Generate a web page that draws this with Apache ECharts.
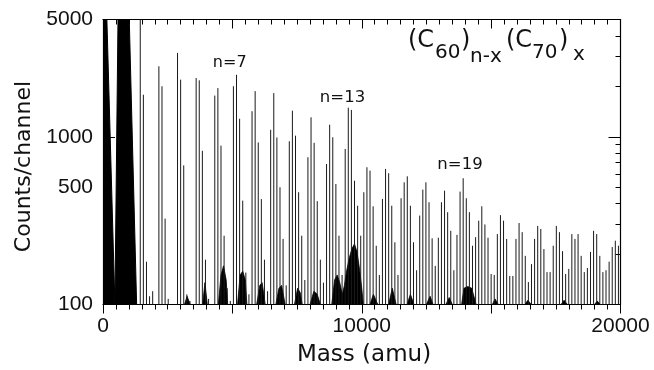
<!DOCTYPE html>
<html><head><meta charset="utf-8">
<script src="https://cdn.jsdelivr.net/npm/echarts@6/dist/echarts.min.js"></script>
<style>html,body{margin:0;padding:0;background:#fff}#c{width:654px;height:370px}</style>
</head><body><div id="c"></div>
<script>
// Peak masses (amu) and heights (counts/channel)
const spikeMass = [1440,1560,1680,1800,1920,2160,2280,2400,2520,2880,3000,3120,3240,3360,3600,3720,3840,3960,4080,
4320,4440,4560,4680,4800,4920,5040,5160,5280,5400,5520,5640,5760,5880,6000,6120,6240,6360,6480,6600,6720,6840,6960,7080,
7200,7320,7440,7560,7680,7800,7920,8040,8160,8280,8400,8520,8640,8760,8880,9000,9120,9240,9360,9480,9600,9720,9840,9960,
10080,10200,10320,10440,10560,10680,10800,10920,11040,11160,11280,11400,11520,11640,11760,11880,12000,12120,12240,12360,12480,12600,12720,12840,
12960,13080,13200,13320,13440,13560,13680,13800,13920,14040,14160,14280,14400,14520,14640,14760,14880,15000,15120,15240,15360,15480,15600,15720,
15840,15960,16080,16200,16320,16440,16560,16680,16800,16920,17040,17160,17280,17400,17520,17640,17760,17880,18000,18120,18240,18360,18480,18600,
18720,18840,18960,19080,19200,19320,19440,19560,19680,19800,19920];
const spikeCounts = [6000,1780,180,112,120,2630,2000,325,108,3160,2190,675,115,105,2240,2170,825,185,108,
1760,1950,885,257,125,105,2000,2340,1280,416,155,115,1420,1870,925,425,185,120,1100,1820,990,500,246,130,
940,1430,1015,467,257,140,755,1306,920,413,185,135,688,1180,993,523,257,150,846,1490,1445,547,388,257,
467,658,628,385,224,150,426,643,606,388,235,150,430,535,581,388,235,160,339,484,535,407,248,170,
250,407,477,355,275,160,260,471,566,430,355,224,252,316,385,300,250,152,150,263,341,316,246,148,
148,246,306,270,195,136,174,246,294,282,214,156,156,224,294,270,208,152,163,263,246,263,195,156,
165,206,275,263,195,156,160,180,220,240,224];
// Saturated low-mass region (C60 / C70 and lighter ions)
const saturatedMass = [0,150,460,520,580,1015,1300];
const saturatedCounts = [5000,5000,100,100,5000,5000,100];
// Unresolved background humps near the baseline
const noiseMass = [1300,3150,3250,3370,3850,3940,4030,4460,4560,4660,4760,4820,5200,5300,5400,5500,5560,
5940,6060,6150,6270,6680,6800,6900,7040,7400,7520,7620,7700,8000,8150,8280,8400,
8840,8950,9050,9150,9250,9330,9420,9520,9620,9720,9820,9920,10000,10060,
10320,10450,10620,11040,11180,11330,11750,11880,12020,12500,12640,12760,13250,13380,13500,
13860,13950,14100,14250,14420,15050,15150,15280,16300,16420,16550,17700,17820,17950,19000,19100,19220];
const noiseCounts = [100,100,112,100,100,135,100,100,150,170,140,100,100,150,158,140,100,
100,130,135,100,100,125,130,100,100,125,118,100,100,120,115,100,
100,140,150,135,115,130,160,190,215,230,205,160,125,100,
100,115,100,100,125,100,100,115,100,100,112,100,100,110,100,
100,125,128,125,100,100,108,100,100,106,100,100,106,100,100,105,100];
const xTickLabels = [0,10000,20000];
const yLabelValues = [100,500,1000,5000];
const yTickValues = [100,200,300,400,500,600,700,800,900,1000,2000,3000,4000,5000];
const yMajorTickValues = [1000];
const clusterLabels = ['n=7','n=13','n=19'];

const YMIN = 100, YMAX = 5000;
const LMIN = Math.log10(YMIN), LMAX = Math.log10(YMAX);
const lg = a => a.map(v => Math.log10(v));
const INK = '#111';
const labelFont = {fontFamily:'Liberation Sans', fontSize:21, color:INK};

const chart = echarts.init(document.getElementById('c'), null, {renderer:'canvas'});

function decoAxis(pos, opts){
  return Object.assign({
    type:'value', position:pos, min:LMIN, max:LMAX, splitLine:{show:false},
    axisLine:{show:true, lineStyle:{color:'#000', width:1.2}},
    axisTick:{show:true, inside:true, length:5, customValues:lg(yTickValues), lineStyle:{color:'#000', width:1}},
    axisLabel:{show:false}
  }, opts);
}

const option = {
  animation:false,
  backgroundColor:'#fff',
  grid:{left:103, right:33.5, top:19.5, bottom:65.5, containLabel:false},
  xAxis:[
    {type:'value', position:'bottom', min:0, max:20000, interval:5000,
     axisLine:{show:true, lineStyle:{color:'#000', width:1.2}},
     axisTick:{show:true, inside:false, length:9, lineStyle:{color:'#000'}},
     minorTick:{show:true, splitNumber:10, length:5, lineStyle:{color:'#000'}},
     splitLine:{show:false}, minorSplitLine:{show:false},
     axisLabel:Object.assign({margin:11, formatter:v => xTickLabels.includes(v) ? String(v) : ''}, labelFont)},
    {type:'value', position:'top', min:0, max:20000, interval:5000,
     axisLine:{show:true, lineStyle:{color:'#000', width:1.2}},
     axisTick:{show:true, inside:true, length:9, lineStyle:{color:'#000'}},
     minorTick:{show:true, splitNumber:10, length:5, lineStyle:{color:'#000'}},
     splitLine:{show:false}, axisLabel:{show:false}}
  ],
  yAxis:[
    {type:'log', logBase:10, min:YMIN, max:YMAX, show:false},
    decoAxis('left', {axisLabel:Object.assign({show:true, margin:10, customValues:lg(yLabelValues),
        formatter:v => String(Math.round(Math.pow(10, v)))}, labelFont)}),
    decoAxis('right', {}),
    decoAxis('right', {axisLine:{show:false}, axisTick:{show:true, inside:true, length:12, customValues:lg(yMajorTickValues), lineStyle:{color:'#000'}}}),
    decoAxis('left', {axisLine:{show:false}, axisTick:{show:true, inside:true, length:12, customValues:lg(yMajorTickValues), lineStyle:{color:'#000'}}})
  ],
  series:[
    {type:'line', name:'saturated', xAxisIndex:0, yAxisIndex:0, data:saturatedMass.map((m,i)=>[m, saturatedCounts[i]]),
     showSymbol:false, symbol:'none', lineStyle:{color:'#000', width:1}, areaStyle:{color:'#000', opacity:1, origin:'start'}, z:3},
    {type:'line', name:'background', xAxisIndex:0, yAxisIndex:0, data:noiseMass.map((m,i)=>[m, noiseCounts[i]]),
     showSymbol:false, symbol:'none', lineStyle:{color:'#000', width:0.8}, areaStyle:{color:'#000', opacity:1, origin:'start'}, z:3},
    {type:'custom', name:'peaks', xAxisIndex:0, yAxisIndex:0, data:spikeMass.map((m,i)=>[m, spikeCounts[i]]),
     encode:{x:0, y:1}, z:4,
     renderItem:function(params, api){
       const m = api.value(0), v = Math.min(api.value(1), YMAX);
       const p0 = api.coord([m, YMIN]);
       const p1 = api.coord([m, v]);
       return {type:'line', shape:{x1:p0[0], y1:p0[1], x2:p1[0], y2:p1[1]}, style:{stroke:'#1a1a1a', lineWidth:1}};
     }}
  ],
  graphic:[
    {type:'text', left:null, x:24, y:166.5, rotation:Math.PI/2,
     style:{text:'Counts/channel', fontFamily:'DejaVu Sans', fontSize:22, fill:INK, align:'center', verticalAlign:'middle'}},
    {type:'text', x:364, y:355, style:{text:'Mass (amu)', fontFamily:'DejaVu Sans', fontSize:23, fill:INK, align:'center', verticalAlign:'middle'}},
    {type:'text', x:229.7, y:63, style:{text:clusterLabels[0], fontFamily:'DejaVu Sans', fontSize:16, fill:INK, align:'center', verticalAlign:'middle'}},
    {type:'text', x:342.5, y:98, style:{text:clusterLabels[1], fontFamily:'DejaVu Sans', fontSize:16.5, fill:INK, align:'center', verticalAlign:'middle'}},
    {type:'text', x:460, y:165, style:{text:clusterLabels[2], fontFamily:'DejaVu Sans', fontSize:16.5, fill:INK, align:'center', verticalAlign:'middle'}},
    {type:'text', x:408, y:41, style:{text:'(C', fontFamily:'DejaVu Sans', fontSize:24, fill:INK, align:'left', verticalAlign:'middle'}},
    {type:'text', x:435, y:53, style:{text:'60', fontFamily:'DejaVu Sans', fontSize:20, fill:INK, align:'left', verticalAlign:'middle'}},
    {type:'text', x:461, y:41, style:{text:')', fontFamily:'DejaVu Sans', fontSize:24, fill:INK, align:'left', verticalAlign:'middle'}},
    {type:'text', x:470, y:56.5, style:{text:'n-x', fontFamily:'DejaVu Sans', fontSize:20, fill:INK, align:'left', verticalAlign:'middle'}},
    {type:'text', x:506, y:41, style:{text:'(C', fontFamily:'DejaVu Sans', fontSize:24, fill:INK, align:'left', verticalAlign:'middle'}},
    {type:'text', x:532, y:53, style:{text:'70', fontFamily:'DejaVu Sans', fontSize:20, fill:INK, align:'left', verticalAlign:'middle'}},
    {type:'text', x:559, y:41, style:{text:')', fontFamily:'DejaVu Sans', fontSize:24, fill:INK, align:'left', verticalAlign:'middle'}},
    {type:'text', x:573, y:55, style:{text:'x', fontFamily:'DejaVu Sans', fontSize:20, fill:INK, align:'left', verticalAlign:'middle'}}
  ]
};
chart.setOption(option);
</script></body></html>
